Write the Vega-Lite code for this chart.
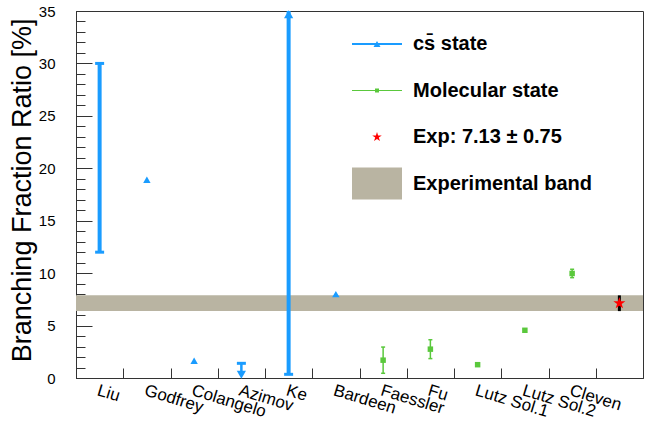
{
  "$schema": "https://vega.github.io/schema/vega-lite/v6.json",
  "width": 567,
  "height": 367,
  "autosize": {"type": "none"},
  "padding": {"left": 76, "top": 11, "right": 13, "bottom": 63},
  "background": "white",
  "config": {
    "view": {"stroke": "#333333", "strokeWidth": 1},
    "font": "Liberation Sans",
    "legend": {"title": null, "orient": "none", "legendX": 276, "symbolSize": 2500, "padding": 0, "labelOffset": 11,
      "labelFont": "Liberation Sans", "labelFontSize": 20, "labelFontWeight": "bold", "labelColor": "black", "labelLimit": 400,
      "symbolStrokeWidth": 0, "symbolOpacity": 1}
  },
  "datasets": {
    "theory": [
      {"name": "Liu", "series": "cs", "value": null, "lo": 12, "hi": 30},
      {"name": "Godfrey", "series": "cs", "value": 18.9, "lo": null, "hi": null},
      {"name": "Colangelo", "series": "cs", "value": 1.65, "lo": null, "hi": null},
      {"name": "Azimov", "series": "cs", "value": null, "lo": 0.25, "hi": 1.4},
      {"name": "Ke", "series": "cs", "value": null, "lo": 0.35, "hi": 35},
      {"name": "Bardeen", "series": "cs", "value": 8.0, "lo": null, "hi": null},
      {"name": "Faessler", "series": "mol", "value": 1.7, "lo": 0.45, "hi": 2.95},
      {"name": "Fu", "series": "mol", "value": 2.75, "lo": 1.85, "hi": 3.65},
      {"name": "Lutz Sol.1", "series": "mol", "value": 1.27, "lo": null, "hi": null},
      {"name": "Lutz Sol.2", "series": "mol", "value": 4.55, "lo": null, "hi": null},
      {"name": "Cleven", "series": "mol", "value": 9.97, "lo": 9.57, "hi": 10.37},
      {"name": "Exp", "series": "exp", "value": 7.13, "lo": 6.38, "hi": 7.88}
    ],
    "caps": [
      {"name": "Liu", "series": "cs", "y": 12},
      {"name": "Liu", "series": "cs", "y": 30},
      {"name": "Ke", "series": "cs", "y": 0.35},
      {"name": "Azimov", "series": "cs", "y": 1.4},
      {"name": "Faessler", "series": "mol", "y": 0.45},
      {"name": "Faessler", "series": "mol", "y": 2.95},
      {"name": "Fu", "series": "mol", "y": 1.85},
      {"name": "Fu", "series": "mol", "y": 3.65},
      {"name": "Cleven", "series": "mol", "y": 9.57},
      {"name": "Cleven", "series": "mol", "y": 10.37}
    ],
    "arrows": [
      {"name": "Ke", "dir": "up", "y": 34.7},
      {"name": "Azimov", "dir": "down", "y": 0.3}
    ],
    "band": [{"lo": 6.38, "hi": 7.88}],
    "legend": [
      {"entry": "c\u0073\u0304 state", "y": null},
      {"entry": "Molecular state", "y": null},
      {"entry": "Exp: 7.13 \u00b1 0.75", "y": null},
      {"entry": "Experimental band", "y": null}
    ]
  },
  "resolve": {"axis": {"y": "independent"}, "scale": {"color": "independent"}, "legend": {"color": "independent"}},
  "layer": [
    {
      "data": {"name": "band"},
      "mark": {"type": "rect", "color": "#b9b4a2"},
      "encoding": {
        "y": {"field": "lo", "type": "quantitative", "scale": {"domain": [0, 35], "nice": false, "zero": false},
          "axis": {"orient": "left", "values": [0,1,2,3,4,5,6,7,8,9,10,11,12,13,14,15,16,17,18,19,20,21,22,23,24,25,26,27,28,29,30,31,32,33,34,35],
            "labels": false, "domain": false, "grid": false, "title": null, "tickSize": -9, "tickColor": "#333333", "tickWidth": 1}},
        "y2": {"field": "hi"}
      }
    },
    {
      "data": {"name": "theory"},
      "transform": [{"filter": "datum.series == 'cs' && datum.lo != null"}],
      "mark": {"type": "rule", "color": "#1a9cff"},
      "encoding": {
        "x": {"field": "name", "type": "nominal",
          "scale": {"type": "band", "domain": ["Liu","Godfrey","Colangelo","Azimov","Ke","Bardeen","Faessler","Fu","Lutz Sol.1","Lutz Sol.2","Cleven","Exp"], "paddingInner": 0, "paddingOuter": 0},
          "axis": {"title": null, "tickBand": "extent", "tickSize": -10, "tickColor": "#333333", "domainColor": "#333333",
            "labelAngle": 17, "labelAlign": "left", "labelBaseline": "top", "labelPadding": 14, "labelFontSize": 17,
            "labelFont": "Liberation Sans", "labelColor": "black", "labelOverlap": false, "labelBound": false, "labelFlush": false, "labelLimit": 300,
            "labelExpr": "datum.value == 'Exp' ? '' : datum.value", "grid": false}},
        "y": {"field": "lo", "type": "quantitative", "axis": null},
        "y2": {"field": "hi"},
        "strokeWidth": {"condition": {"test": "datum.name == 'Azimov'", "value": 2.5}, "value": 4}
      }
    },
    {
      "data": {"name": "theory"},
      "transform": [{"filter": "datum.series == 'mol' && datum.lo != null"}],
      "mark": {"type": "rule", "color": "#5ac83c", "strokeWidth": 1.5},
      "encoding": {
        "x": {"field": "name", "type": "nominal"},
        "y": {"field": "lo", "type": "quantitative", "axis": null},
        "y2": {"field": "hi"}
      }
    },
    {
      "data": {"name": "theory"},
      "transform": [{"filter": "datum.series == 'exp'"}],
      "mark": {"type": "rule", "color": "black", "strokeWidth": 3},
      "encoding": {
        "x": {"field": "name", "type": "nominal"},
        "y": {"field": "lo", "type": "quantitative", "axis": null},
        "y2": {"field": "hi"}
      }
    },
    {
      "data": {"name": "caps"},
      "transform": [{"filter": "datum.series == 'cs'"}],
      "mark": {"type": "tick", "orient": "horizontal", "color": "#1a9cff", "size": 9, "thickness": 3, "opacity": 1},
      "encoding": {
        "x": {"field": "name", "type": "nominal"},
        "y": {"field": "y", "type": "quantitative", "axis": null}
      }
    },
    {
      "data": {"name": "caps"},
      "transform": [{"filter": "datum.series == 'mol'"}],
      "mark": {"type": "tick", "orient": "horizontal", "color": "#5ac83c", "size": 4, "thickness": 1.5, "opacity": 1},
      "encoding": {
        "x": {"field": "name", "type": "nominal"},
        "y": {"field": "y", "type": "quantitative", "axis": null}
      }
    },
    {
      "data": {"name": "arrows"},
      "mark": {"type": "point", "filled": true, "color": "#1a9cff", "opacity": 1, "size": 85, "strokeWidth": 0},
      "encoding": {
        "x": {"field": "name", "type": "nominal"},
        "y": {"field": "y", "type": "quantitative", "axis": null},
        "shape": {"field": "dir", "type": "nominal", "scale": {"domain": ["up", "down"], "range": ["triangle-up", "triangle-down"]}, "legend": null}
      }
    },
    {
      "data": {"name": "theory"},
      "transform": [{"filter": "datum.series == 'mol' && datum.value != null"}],
      "mark": {"type": "point", "filled": true, "shape": "square", "size": 30, "opacity": 1, "strokeWidth": 0, "color": "#5ac83c"},
      "encoding": {
        "x": {"field": "name", "type": "nominal"},
        "y": {"field": "value", "type": "quantitative", "axis": null}
      }
    },
    {
      "data": {"name": "theory"},
      "transform": [{"filter": "datum.series == 'exp'"}],
      "mark": {"type": "point", "filled": true, "shape": "M0,-1L0.225,-0.309L0.951,-0.309L0.363,0.118L0.588,0.809L0,0.382L-0.588,0.809L-0.363,0.118L-0.951,-0.309L-0.225,-0.309Z", "size": 160, "opacity": 1, "strokeWidth": 0, "color": "#ff0000"},
      "encoding": {
        "x": {"field": "name", "type": "nominal"},
        "y": {"field": "value", "type": "quantitative", "axis": null}
      }
    },
    {
      "data": {"name": "theory"},
      "transform": [{"filter": "datum.series == 'cs' && datum.value != null"}],
      "mark": {"type": "point", "filled": true, "shape": "triangle-up", "size": 55, "opacity": 1, "strokeWidth": 0, "color": "#1a9cff"},
      "encoding": {
        "x": {"field": "name", "type": "nominal"},
        "y": {"field": "value", "type": "quantitative",
          "axis": {"orient": "left", "values": [0, 5, 10, 15, 20, 25, 30, 35], "tickSize": -16, "tickColor": "#333333", "domainColor": "#333333",
            "labelPadding": 37, "labelFontSize": 15, "labelFont": "Liberation Sans", "labelColor": "black", "grid": false,
            "title": "Branching Fraction Ratio [%]", "titleFont": "Liberation Sans", "titleFontSize": 27, "titleFontWeight": "normal",
            "titleColor": "black", "titleAnchor": "end", "titleY": 7, "titlePadding": 2}}
      }
    },
    {
      "data": {"name": "legend"},
      "transform": [{"filter": "datum.entry == 'c\u0073\u0304 state'"}],
      "mark": {"type": "point", "filled": true, "strokeWidth": 0, "opacity": 1, "shape": "M-1,-0.04H1V0.04H-1Z M-0.14,0.12L0,-0.12L0.14,0.12Z"},
      "encoding": {
        "y": {"field": "y", "type": "quantitative", "axis": null},
        "color": {"field": "entry", "type": "nominal", "scale": {"domain": ["c\u0073\u0304 state"], "range": ["#1a9cff"]}, "legend": {"legendY": 8}}
      }
    },
    {
      "data": {"name": "legend"},
      "transform": [{"filter": "datum.entry == 'Molecular state'"}],
      "mark": {"type": "point", "filled": true, "strokeWidth": 0, "opacity": 1, "shape": "M-1,-0.02H1V0.02H-1Z M-0.08,-0.08H0.08V0.08H-0.08Z"},
      "encoding": {
        "y": {"field": "y", "type": "quantitative", "axis": null},
        "color": {"field": "entry", "type": "nominal", "scale": {"domain": ["Molecular state"], "range": ["#5ac83c"]}, "legend": {"legendY": 54.5}}
      }
    },
    {
      "data": {"name": "legend"},
      "transform": [{"filter": "datum.entry == 'Exp: 7.13 \u00b1 0.75'"}],
      "mark": {"type": "point", "filled": true, "strokeWidth": 0, "opacity": 1, "shape": "M0,-0.2L0.045,-0.062L0.19,-0.062L0.073,0.024L0.118,0.162L0,0.076L-0.118,0.162L-0.073,0.024L-0.19,-0.062L-0.045,-0.062Z"},
      "encoding": {
        "y": {"field": "y", "type": "quantitative", "axis": null},
        "color": {"field": "entry", "type": "nominal", "scale": {"domain": ["Exp: 7.13 \u00b1 0.75"], "range": ["#ff0000"]}, "legend": {"legendY": 101}}
      }
    },
    {
      "data": {"name": "legend"},
      "transform": [{"filter": "datum.entry == 'Experimental band'"}],
      "mark": {"type": "point", "filled": true, "strokeWidth": 0, "opacity": 1, "shape": "M-1,-0.64H1V0.64H-1Z"},
      "encoding": {
        "y": {"field": "y", "type": "quantitative", "axis": null},
        "color": {"field": "entry", "type": "nominal", "scale": {"domain": ["Experimental band"], "range": ["#b9b4a2"]}, "legend": {"legendY": 147.5}}
      }
    }
  ]
}
